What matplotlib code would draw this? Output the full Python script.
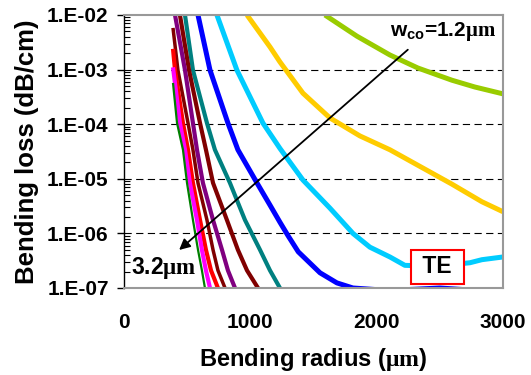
import numpy as np
import matplotlib
matplotlib.use('Agg')
import matplotlib.pyplot as plt

plt.rcParams['font.family'] = ['Liberation Sans', 'DejaVu Sans']
plt.rcParams['font.weight'] = 'bold'
plt.rcParams['mathtext.fontset'] = 'custom'
plt.rcParams['mathtext.bf'] = 'Liberation Sans:bold'
plt.rcParams['mathtext.rm'] = 'Liberation Serif:bold'

# core widths (um) and bending loss curves (radius um, loss dB/cm)
widths = ['1.2', '1.4', '1.6', '1.8', '2.0', '2.2', '2.4', '2.6', '2.8', '3.0', '3.2']
colors = ['#99cc00', '#ffcc00', '#00ccff', '#0000ff', '#008080', '#800000',
          '#800080', '#800000', '#ff0000', '#ff00ff', '#008000']

r_12 = [1591, 1844, 2106, 2327, 2596, 2778, 3000]
l_12 = [1.0e-2, 4.1e-3, 1.85e-3, 1.07e-3, 6.4e-4, 4.8e-4, 3.6e-4]

r_14 = [974, 1156, 1235, 1417, 1631, 1868, 2106, 2224, 2596, 2834, 3000]
l_14 = [1.0e-2, 2.6e-3, 1.38e-3, 3.7e-4, 1.3e-4, 6.1e-5, 3.4e-5, 2.4e-5, 8.0e-6, 3.8e-6, 2.5e-6]

r_16 = [736, 894, 1100, 1235, 1417, 1631, 1813, 1947, 2106, 2224, 2460, 2739, 2834, 3000]
l_16 = [1.0e-2, 9.8e-4, 1.05e-4, 3.6e-5, 9.5e-6, 2.9e-6, 1.0e-6, 5.6e-7, 3.7e-7, 2.6e-7,
        2.5e-7, 2.9e-7, 3.3e-7, 3.7e-7]

r_18 = [586, 681, 823, 902, 1053, 1156, 1235, 1300, 1380, 1552, 1686, 1813, 2100, 2500, 2800]
l_18 = [1.0e-2, 9.8e-4, 1.05e-4, 3.4e-5, 8.4e-6, 3.3e-6, 1.6e-6, 9.0e-7, 4.6e-7, 1.9e-7,
        1.24e-7, 1.0e-7, 9.0e-8, 1.0e-7, 9.0e-8]

r_20 = [483, 546, 657, 720, 839, 958, 1077, 1156, 1235]
l_20 = [1.0e-2, 9.8e-4, 1.05e-4, 3.4e-5, 8.4e-6, 1.76e-6, 5.0e-7, 2.1e-7, 1.0e-7]

r_22 = [443, 515, 602, 649, 705, 815, 902, 974, 1061]
l_22 = [1.0e-2, 9.8e-4, 1.05e-4, 3.4e-5, 8.4e-6, 1.76e-6, 5.0e-7, 2.1e-7, 1.0e-7]

r_24 = [404, 483, 546, 578, 625, 705, 776, 823, 879]
l_24 = [1.0e-2, 9.8e-4, 1.05e-4, 3.4e-5, 8.4e-6, 1.76e-6, 5.0e-7, 2.1e-7, 1.0e-7]

r_26 = [388, 427, 507, 546, 586, 657, 705, 744, 800]
l_26 = [5.8e-3, 9.8e-4, 1.05e-4, 3.4e-5, 8.4e-6, 1.76e-6, 5.0e-7, 2.1e-7, 1.0e-7]

r_28 = [388, 404, 467, 507, 546, 602, 649, 689, 744]
l_28 = [2.4e-3, 9.8e-4, 1.05e-4, 3.4e-5, 8.4e-6, 1.76e-6, 5.0e-7, 2.1e-7, 1.0e-7]

r_30 = [388, 443, 483, 522, 578, 617, 649, 681]
l_30 = [1.1e-3, 1.05e-4, 3.4e-5, 8.4e-6, 1.76e-6, 5.0e-7, 2.1e-7, 1.0e-7]

r_32 = [388, 420, 467, 499, 546, 586, 617, 641]
l_32 = [5.7e-4, 1.05e-4, 3.4e-5, 8.4e-6, 1.76e-6, 5.0e-7, 2.1e-7, 1.0e-7]

radii = [r_12, r_14, r_16, r_18, r_20, r_22, r_24, r_26, r_28, r_30, r_32]
losses = [l_12, l_14, l_16, l_18, l_20, l_22, l_24, l_26, l_28, l_30, l_32]
lws = [3.6, 3.6, 3.6, 3.6, 3.0, 3.0, 3.0, 2.5, 3.0, 3.0, 1.6]

x_ticks = [0, 1000, 2000, 3000]
y_ticks = [1e-7, 1e-6, 1e-5, 1e-4, 1e-3, 1e-2]
y_labels = ['1.E-07', '1.E-06', '1.E-05', '1.E-04', '1.E-03', '1.E-02']

fig = plt.figure(figsize=(5.31, 3.75), dpi=100)
ax = fig.add_axes([0.2335, 0.232, 0.7135, 0.728])

for r, l, c, w in zip(radii, losses, colors, lws):
    ax.plot(r, l, color=c, linewidth=w, solid_capstyle='butt')

ax.set_yscale('log')
ax.set_xlim(0, 3000)
ax.set_ylim(1e-7, 1e-2)

for yv in y_ticks[1:-1]:
    ax.axhline(yv, color='black', linewidth=0.8, linestyle=(0, (6.5, 4)), zorder=0.5)

ax.set_xticks(x_ticks)
ax.set_xticklabels([str(v) for v in x_ticks], fontsize=15, fontweight='bold')
ax.set_yticks(y_ticks)
ax.set_yticklabels(y_labels, fontsize=15, fontweight='bold')
ax.tick_params(axis='x', length=0, pad=18)
ax.tick_params(axis='y', which='major', direction='out', length=5, width=1, pad=6)
ax.tick_params(axis='y', which='minor', direction='in', length=4, width=0.8)
ax.minorticks_on()
ax.xaxis.set_minor_locator(matplotlib.ticker.NullLocator())

for s in ['top', 'right', 'bottom']:
    ax.spines[s].set_color('#999999')
    ax.spines[s].set_linewidth(1.5)
ax.spines['left'].set_color('black')
ax.spines['left'].set_linewidth(1.0)

ax.set_xlabel(r'Bending radius ($\mathrm{\mu m}$)', fontsize=17, fontweight='bold', labelpad=10)
ax.set_ylabel('Bending loss (dB/cm)', fontsize=18.5, fontweight='bold', labelpad=6)

ax.annotate('', xy=(420, 4.6e-7), xytext=(2264, 2.5e-3),
            arrowprops=dict(arrowstyle='-|>', color='black', lw=1.3, mutation_scale=16))
ax.text(2950, 4.9e-3, r'$\mathbf{w_{co}}$=1.2$\mathrm{\mu m}$', fontsize=15,
        fontweight='bold', ha='right', va='center')
ax.text(55, 2.3e-7, r'3.2$\mathrm{\mu m}$', fontsize=16.5, fontweight='bold',
        ha='left', va='center')
ax.text(2482, 2.45e-7, ' TE ', fontsize=16.5, fontweight='bold', ha='center', va='center',
        bbox=dict(boxstyle='square,pad=0.25', facecolor='white', edgecolor='#ff0000', linewidth=1.5))

fig.savefig('out.png', dpi=100)
